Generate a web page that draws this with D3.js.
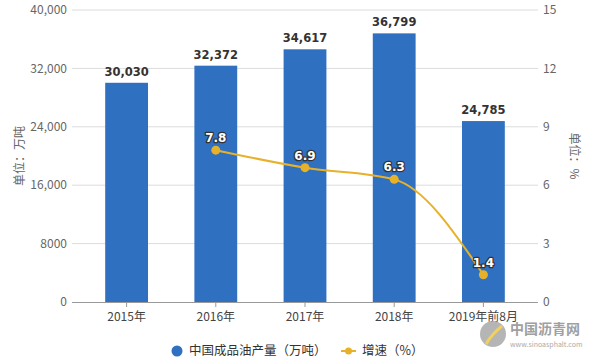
<!DOCTYPE html>
<html><head><meta charset="utf-8">
<script src="https://cdn.jsdelivr.net/npm/d3@7"></script>
<style>
html,body{margin:0;padding:0;background:#fff;}
svg{display:block;font-family:"Noto Sans CJK SC","Microsoft YaHei",sans-serif;}
</style></head>
<body><svg id="c" width="596" height="360"></svg>
<script>
const categories = ["2015年","2016年","2017年","2018年","2019年前8月"];
const output = [30030, 32372, 34617, 36799, 24785];
const growth = [null, 7.8, 6.9, 6.3, 1.4];
const leftTicks = [0, 8000, 16000, 24000, 32000, 40000];
const rightTicks = [0, 3, 6, 9, 12, 15];
const seriesNames = ["中国成品油产量（万吨）", "增速（%）"];
const axisTitles = ["单位：万吨", "单位：%"];

const svg = d3.select("#c");
const barColor = "#2f70c1", lineColor = "#e8b12a";
const plotL = 72, plotR = 538, plotT = 10, plotB = 302;

const x = d3.scaleBand().domain(categories).range([82, 528]).paddingInner(0.52).paddingOuter(0.26);
const yL = d3.scaleLinear().domain([0, 40000]).range([plotB, plotT]);
const yR = d3.scaleLinear().domain([0, 15]).range([plotB, plotT]);

// gridlines
svg.append("g").selectAll("line").data(leftTicks.filter(d => d > 0)).join("line")
  .attr("x1", plotL).attr("x2", plotR)
  .attr("y1", d => yL(d)).attr("y2", d => yL(d))
  .attr("stroke", "#dcdcdc").attr("stroke-width", 1);

// left axis labels
const fmt = d => d === 8000 ? "8000" : d3.format(",")(d);
svg.append("g").selectAll("text").data(leftTicks).join("text")
  .attr("x", 67).attr("y", d => yL(d)).attr("dy", "0.35em")
  .attr("text-anchor", "end").attr("font-size", 12).attr("fill", "#666")
  .text(fmt);
// right axis labels
svg.append("g").selectAll("text").data(rightTicks).join("text")
  .attr("x", 543).attr("y", d => yR(d)).attr("dy", "0.35em")
  .attr("text-anchor", "start").attr("font-size", 12).attr("fill", "#666")
  .text(d => d);

// axis titles
svg.append("text").attr("transform", `translate(20,${(plotT+plotB)/2}) rotate(-90)`)
  .attr("text-anchor", "middle").attr("dy", "0.35em").attr("font-size", 12).attr("fill", "#666")
  .text(axisTitles[0]);
svg.append("text").attr("transform", `translate(574,${(plotT+plotB)/2}) rotate(90)`)
  .attr("text-anchor", "middle").attr("dy", "0.35em").attr("font-size", 12).attr("fill", "#666")
  .text(axisTitles[1]);

// bars
svg.append("g").selectAll("rect").data(output).join("rect")
  .attr("x", (d, i) => x(categories[i])).attr("width", x.bandwidth())
  .attr("y", d => yL(d)).attr("height", d => plotB - yL(d))
  .attr("fill", barColor);

// bar labels
svg.append("g").selectAll("text").data(output).join("text")
  .attr("x", (d, i) => x(categories[i]) + x.bandwidth() / 2)
  .attr("y", d => yL(d) - 7)
  .attr("text-anchor", "middle").attr("font-weight", "bold")
  .attr("fill", "#333").attr("font-family", "'DejaVu Sans', sans-serif")
  .style("font-size", "11.5px")
  .text(d => d3.format(",")(d));

// x axis
svg.append("line").attr("x1", plotL).attr("x2", plotR).attr("y1", plotB + 0.5).attr("y2", plotB + 0.5)
  .attr("stroke", "#999");
svg.append("g").selectAll("line").data(categories).join("line")
  .attr("x1", d => x(d) + x.bandwidth() / 2).attr("x2", d => x(d) + x.bandwidth() / 2)
  .attr("y1", plotB).attr("y2", plotB + 5).attr("stroke", "#999");
svg.append("g").selectAll("text").data(categories).join("text")
  .attr("x", d => x(d) + x.bandwidth() / 2).attr("y", 321)
  .attr("text-anchor", "middle").attr("font-size", 12).attr("fill", "#444")
  .text(d => d);

// line
const pts = growth.map((v, i) => ({ v, c: categories[i] })).filter(p => p.v !== null);
const cx = p => x(p.c) + x.bandwidth() / 2;
const line = d3.line().x(cx).y(p => yR(p.v)).curve(d3.curveMonotoneX);
svg.append("path").datum(pts).attr("d", line).attr("fill", "none")
  .attr("stroke", lineColor).attr("stroke-width", 2);
svg.append("g").selectAll("circle").data(pts).join("circle")
  .attr("cx", cx).attr("cy", p => yR(p.v)).attr("r", 4.5).attr("fill", lineColor);
svg.append("g").selectAll("text").data(pts).join("text")
  .attr("x", cx).attr("y", p => yR(p.v) - 8)
  .attr("text-anchor", "middle").attr("font-size", 12).attr("font-weight", "bold")
  .attr("font-family", "'DejaVu Sans', sans-serif")
  .attr("fill", "#fff").attr("stroke", "#333").attr("stroke-width", 2.5)
  .attr("stroke-linejoin", "round").style("paint-order", "stroke")
  .text(p => p.v.toFixed(1));

// legend
const lg = svg.append("g");
lg.append("circle").attr("cx", 177).attr("cy", 351).attr("r", 5.5).attr("fill", barColor);
lg.append("text").attr("x", 189).attr("y", 351).attr("dy", "0.35em").attr("font-size", 12.5)
  .attr("fill", "#333").text(seriesNames[0]);
lg.append("line").attr("x1", 341).attr("x2", 356).attr("y1", 351).attr("y2", 351)
  .attr("stroke", lineColor).attr("stroke-width", 2);
lg.append("circle").attr("cx", 348.5).attr("cy", 351).attr("r", 3.5).attr("fill", lineColor);
lg.append("text").attr("x", 362).attr("y", 351).attr("dy", "0.35em").attr("font-size", 12.5)
  .attr("fill", "#333").text(seriesNames[1]);

// source logo text
const wm = svg.append("g");
wm.append("circle").attr("cx", 493).attr("cy", 334).attr("r", 13).attr("fill", "#a8a8a8").attr("opacity", 0.85);
wm.append("path").attr("d", "M486,344 Q492,334 502,326").attr("stroke", "#f0d060").attr("stroke-width", 3).attr("fill", "none");
wm.append("text").attr("x", 510).attr("y", 334).attr("font-size", 14).attr("font-weight", "bold")
  .attr("fill", "#a0a0a0").text("中国沥青网");
wm.append("text").attr("x", 510).attr("y", 347).attr("font-size", 7)
  .attr("fill", "#aaa").text("www.sinoasphalt.com");
</script></body></html>
